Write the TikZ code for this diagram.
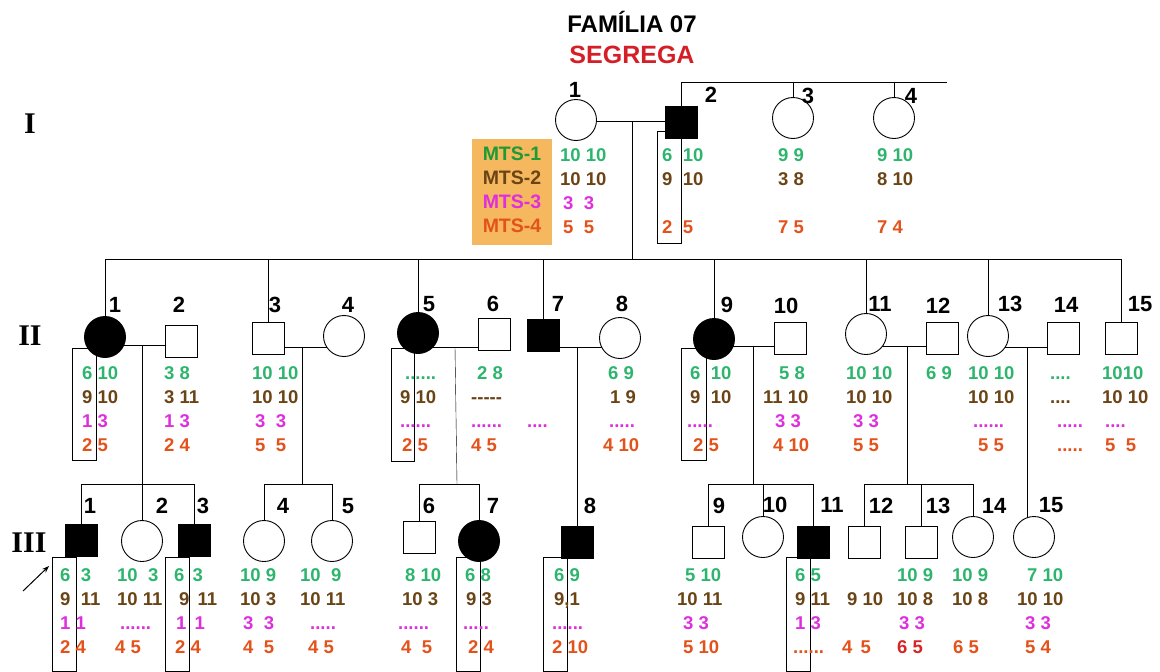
\documentclass[tikz,border=0pt]{standalone}
\usepackage{fontspec}
\setmainfont{Liberation Sans}
\newfontfamily\serfont{Liberation Serif}
\usepackage{xcolor}
\usetikzlibrary{arrows.meta,backgrounds}
\definecolor{mtsgreen}{HTML}{2DB56E}
\definecolor{mtsdkgreen}{HTML}{1F9A35}
\definecolor{mtsbrown}{HTML}{6B4416}
\definecolor{mtspink}{HTML}{DD2FDD}
\definecolor{mtsorange}{HTML}{E4521B}
\definecolor{mtsred}{HTML}{D52525}
\definecolor{legfill}{HTML}{F6B85E}
\definecolor{titlered}{HTML}{D51F26}

\tikzset{
  male/.style={draw,line width=0.9pt,fill=white,minimum size=32pt,inner sep=0pt},
  female/.style={draw,circle,line width=0.9pt,fill=white,minimum size=41pt,inner sep=0pt},
  aff/.style={fill=black},
  num/.style={inner sep=0pt,font=\fontsize{22}{22}\selectfont\bfseries},
  geno/.style={anchor=north west,inner sep=0pt,align=left,font=\fontsize{18.5}{24}\selectfont\bfseries},
  genlbl/.style={inner sep=0pt,font=\serfont\fontsize{30}{30}\selectfont\bfseries},
  ped/.style={line width=1pt},
  hap/.style={draw,line width=0.9pt}
}
\newcommand\gt[4]{\textcolor{mtsgreen}{\strut#1}\\\textcolor{mtsbrown}{\strut#2}\\\textcolor{mtspink}{\strut#3}\\\textcolor{mtsorange}{\strut#4}}

\begin{document}
\begin{tikzpicture}[x=1pt,y=-1pt]
\useasboundingbox (0,0) rectangle (1160,672);

\node[anchor=base,inner sep=0pt,font=\fontsize{24}{24}\selectfont\bfseries] (fam) at (632,32) {FAMÍLIA 07};
\node[anchor=base,inner sep=0pt,text=titlered,font=\fontsize{25}{25}\selectfont\bfseries] (seg) at (632,63) {SEGREGA};

\node[genlbl] (gI) at (30,124) {I};
\node[genlbl] (gII) at (30,336) {II};
\node[genlbl] (gIII) at (29,543) {III};

\node[fill=legfill,minimum width=80pt,minimum height=106pt,inner sep=0pt,align=center,font=\fontsize{19.5}{24}\selectfont\bfseries] (leg) at (512,191.5)
  {\textcolor{mtsdkgreen}{\strut MTS-1}\\\textcolor{mtsbrown}{\strut MTS-2}\\\textcolor{mtspink}{\strut MTS-3}\\\textcolor{mtsorange}{\strut MTS-4}};

% generation I
\node[female] (i1) at (576,120) {};
\node[male,aff] (i2) at (681,122) {};
\node[female] (i3) at (793,118) {};
\node[female] (i4) at (894,118) {};
\foreach \n/\x/\y in {1/575/90,2/711/95,3/808/96,4/911/96}
  \node[num] (ni\n) at (\x,\y) {\n};

\node[geno] (gi1) at (560,144.8) {\gt{10 10}{10 10}{\kern3pt3~~3}{\kern3pt5~~5}};
\node[geno] (gi2) at (662,144.8) {\gt{6~~10}{9~~10}{}{2~~5}};
\node[geno] (gi3) at (778,144.8) {\gt{9 9}{3 8}{}{7 5}};
\node[geno] (gi4) at (877,144.8) {\gt{9 10}{8 10}{}{7 4}};

% generation II
\node[female,aff] (ii1) at (105,337) {};
\node[male] (ii2) at (181,341) {};
\node[male] (ii3) at (268,338) {};
\node[female] (ii4) at (344,336) {};
\node[female,aff] (ii5) at (418,333) {};
\node[male] (ii6) at (494,334) {};
\node[male,aff] (ii7) at (543,335) {};
\node[female] (ii8) at (620,338) {};
\node[female,aff] (ii9) at (714,339) {};
\node[male] (ii10) at (790,338) {};
\node[female] (ii11) at (866,334) {};
\node[male] (ii12) at (942,338) {};
\node[female] (ii13) at (988,336) {};
\node[male] (ii14) at (1063,338) {};
\node[male] (ii15) at (1121,338) {};
\foreach \n/\x/\y in {1/115/305,2/179/305,3/275/305,4/348/305,5/429/304,6/493/304,7/558/304,8/622/304,
  9/727/305,10/786/306,11/880/304,12/938/306,13/1010/304,14/1066/305,15/1140/304}
  \node[num] (nii\n) at (\x,\y) {\n};

\node[geno] (gii1) at (82,362.8) {\gt{6 10}{9 10}{1 3}{2 5}};
\node[geno] (gii2) at (164,362.8) {\gt{3 8}{3 11}{1 3}{2 4}};
\node[geno] (gii3) at (252,362.8) {\gt{10 10}{10 10}{\kern3pt3~~3}{\kern3pt5~~5}};
\node[geno] (gii5) at (400,362.8) {\gt{\kern5pt......}{9 10}{......}{\kern2pt2 5}};
\node[geno] (gii6) at (471,362.8) {\gt{\kern6pt2 8}{-{}-{}-{}-{}-}{......}{4 5}};
\node[geno] (gii7) at (527,362.8) {\gt{}{}{....}{}};
\node[geno] (gii8) at (603,362.8) {\gt{\kern5pt6 9}{\kern7pt1 9}{\kern6pt.....}{4 10}};
\node[geno] (gii9) at (687,362.8) {\gt{\kern3pt6~~10}{\kern3pt9~~10}{.....}{\kern6pt2 5}};
\node[geno] (gii10) at (763,362.8) {\gt{\kern16pt5 8}{11 10}{\kern12pt3 3}{\kern10pt4 10}};
\node[geno] (gii11) at (846,362.8) {\gt{10 10}{10 10}{\kern7pt3 3}{\kern7pt5 5}};
\node[geno] (gii12) at (926,362.8) {\gt{6 9}{}{}{}};
\node[geno] (gii13) at (968,362.8) {\gt{10 10}{10 10}{\kern5pt......}{\kern10pt5 5}};
\node[geno] (gii14) at (1050,362.8) {\gt{....}{....}{\kern7pt.....}{\kern7pt.....}};
\node[geno] (gii15) at (1102,362.8) {\gt{1010}{10 10}{\kern3pt....}{\kern3pt5~~5}};

% generation III
\node[male,aff] (iii1) at (81,540) {};
\node[female] (iii2) at (142,541) {};
\node[male,aff] (iii3) at (194,540) {};
\node[female] (iii4) at (264,541) {};
\node[female] (iii5) at (332,541) {};
\node[male] (iii6) at (419,537) {};
\node[female,aff] (iii7) at (479,541) {};
\node[male,aff] (iii8) at (577,542) {};
\node[male] (iii9) at (708,542) {};
\node[female] (iii10) at (763,537) {};
\node[male,aff] (iii11) at (813,542) {};
\node[male] (iii12) at (864,542) {};
\node[male] (iii13) at (921,542) {};
\node[female] (iii14) at (973,537) {};
\node[female] (iii15) at (1034,537) {};
\foreach \n/\x/\y in {1/90/506,2/162/506,3/203/506,4/283/506,5/348/506,6/429/506,7/493/506,8/590/506,
  9/719/506,10/775/505,11/832/505,12/881/506,13/938/506,14/994/506,15/1051/505}
  \node[num] (niii\n) at (\x,\y) {\n};

\node[geno] (giii1) at (60,564.8) {\gt{6~~3}{9~~11}{1 1}{2 4}};
\node[geno] (giii2) at (115,564.8) {\gt{\kern2pt10~~3}{\kern2pt10 11}{\kern5pt......}{4 5}};
\node[geno] (giii3) at (174,564.8) {\gt{6\,~3}{\kern5pt9\,~11}{\kern2pt1\,~1}{\kern1pt2 4}};
\node[geno] (giii4) at (240,564.8) {\gt{10 9}{10 3}{\kern3pt3~~3}{\kern3pt4~~5}};
\node[geno] (giii5) at (300,564.8) {\gt{10~~9}{10 11}{\kern10pt.....}{\kern8pt4 5}};
\node[geno] (giii6) at (398,564.8) {\gt{\kern7pt8 10}{\kern4pt10 3}{......}{\kern3pt4~~5}};
\node[geno] (giii7) at (463,564.8) {\gt{\kern2pt6 8}{\kern3pt9 3}{.....}{\kern5pt2 4}};
\node[geno] (giii8) at (552,564.8) {\gt{\kern2pt6 9}{\kern2pt9,1}{......}{2 10}};
\node[geno] (giii9) at (677,564.8) {\gt{\kern8pt5 10}{10 11}{\kern6pt3 3}{\kern6pt5 10}};
\node[geno] (giii11) at (793,564.8) {\gt{\kern2pt6 5}{\kern2pt9 11}{\kern2pt1 3}{......}};
\node[geno] (giii12) at (842,564.8) {\gt{}{\kern5pt9 10}{}{4\,~5}};
\node[geno] (giii13) at (897,564.8) {\gt{10 9}{10 8}{\kern2pt3 3}{\textcolor{mtsred}{6 5}}};
\node[geno] (giii14) at (952,564.8) {\gt{10 9}{10 8}{}{\kern1pt6 5}};
\node[geno] (giii15) at (1017,564.8) {\gt{\kern10pt7 10}{10 10}{\kern8pt3 3}{\kern8pt5 4}};

\coordinate (pa) at (23,591);
\coordinate (pb) at (49,566);
\draw[line width=1pt,-{Stealth[length=7pt,width=5pt]}] (pa) -- (pb);

\begin{scope}[on background layer,ped]
\draw[hap] (657,131) rectangle (681,243);
\draw[hap] (72,348) rectangle (96,460);
\draw[hap] (391,348) rectangle (414,461);
\draw[hap] (681,348) rectangle (706,460);
\draw[hap] (52,557) rectangle (76,671);
\draw[hap] (165,557) rectangle (189,671);
\draw[hap] (456,557) rectangle (480,671);
\draw[hap] (543,557) rectangle (567,671);
\draw[hap] (786,557) rectangle (810,671);

\coordinate (m1) at (632,121);
\coordinate (s1) at (632,259);
\coordinate (s0) at (681,82);
\coordinate (e0) at (947,82);
\draw (i1 |- m1) -- (i2 |- m1);
\draw (m1) -- (s1);
\draw (i2) -- (s0) -- (e0);
\foreach \c in {i3,i4} \draw (\c |- s0) -- (\c);
\draw (ii1 |- s1) -- (ii15 |- s1);
\foreach \c in {ii1,ii3,ii5,ii7,ii9,ii11,ii13,ii15} \draw (\c |- s1) -- (\c);

\coordinate (m21) at (142,345);
\coordinate (m22) at (302,347);
\coordinate (m23) at (455,347);
\coordinate (m24) at (577,347);
\coordinate (m25) at (753,346);
\coordinate (m26) at (907,346);
\coordinate (m27) at (1027,347);
\draw (ii1 |- m21) -- (ii2 |- m21);
\draw (ii3 |- m22) -- (ii4 |- m22);
\draw (ii5 |- m23) -- (ii6 |- m23);
\draw (ii7 |- m24) -- (ii8 |- m24);
\draw (ii9 |- m25) -- (ii10 |- m25);
\draw (ii11 |- m26) -- (ii12 |- m26);
\draw (ii13 |- m27) -- (ii14 |- m27);

\coordinate (s31) at (142,484);
\coordinate (s32) at (302,484);
\coordinate (s33) at (457,484);
\coordinate (s35) at (753,484);
\coordinate (s36) at (907,484);
\draw (m21) -- (s31);
\draw (m22) -- (s32);
\draw (m23) -- (s33);
\draw (m24) -- (iii8);
\draw (m25) -- (s35);
\draw (m26) -- (s36);
\draw (m27) -- (m27 |- iii15);
\draw (iii1 |- s31) -- (iii3 |- s31);
\draw (iii4 |- s32) -- (iii5 |- s32);
\draw (iii6 |- s33) -- (iii7 |- s33);
\draw (iii9 |- s35) -- (iii11 |- s35);
\draw (iii12 |- s36) -- (iii14 |- s36);
\foreach \c/\s in {iii1/s31,iii2/s31,iii3/s31,iii4/s32,iii5/s32,iii6/s33,iii7/s33,
  iii9/s35,iii10/s35,iii11/s35,iii12/s36,iii13/s36,iii14/s36}
  \draw (\c |- \s) -- (\c);
\end{scope}
\end{tikzpicture}
\end{document}
